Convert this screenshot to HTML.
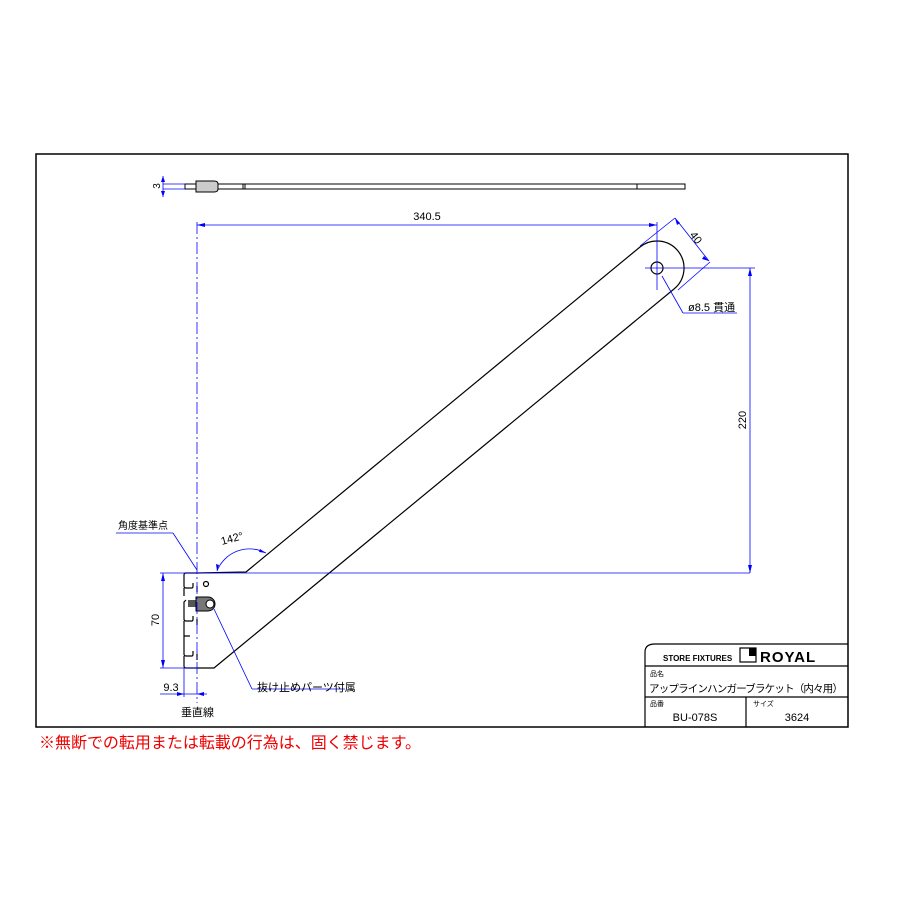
<!DOCTYPE html>
<html><head><meta charset="utf-8"><style>
body{margin:0;background:#fff;}
text{font-family:"Liberation Sans","Noto Sans CJK JP",sans-serif;}
</style></head><body>
<svg width="900" height="900" viewBox="0 0 900 900" xmlns="http://www.w3.org/2000/svg">
<rect x="36" y="154" width="812" height="573" fill="none" stroke="#000" stroke-width="1.5"/>
<!-- top view -->
<g stroke="#000" stroke-width="1" fill="none">
<rect x="185" y="184" width="500" height="5"/>
<path d="M196,181 L214,181 Q218,181 218,184 L218,189 Q218,192 214,192 L196,192 Z" fill="#ccc"/>
<line x1="243" y1="184" x2="243" y2="189"/><line x1="245" y1="184" x2="245" y2="189"/>
<line x1="637" y1="184" x2="637" y2="189"/>
</g>
<g stroke="#00f" stroke-width="0.8" fill="none">
<line x1="163" y1="184" x2="185" y2="184"/><line x1="163" y1="189" x2="185" y2="189"/>
<line x1="163" y1="176" x2="163" y2="197"/>
</g>
<text x="160" y="186" font-size="10" transform="rotate(-90 160 186)" text-anchor="middle">3</text>
<!-- bracket -->
<g stroke="#000" stroke-width="1.2" fill="none">
<path d="M197,573 L246,572 L640,247 A27,27 0 1 1 674,289 L214,668 L197,668"/>
<path d="M197,573 L186,573 Q184,573 184,575 L184,586 Q184,588 186,588 L192,588 Q193,588 193,586 L193,583 M197,586 L197,592"/>
<path d="M184,588 L184,596 M186,600 L184,602 L184,619 Q184,621 186,621 L192,621 Q193,621 193,619 L193,616 M197,619 L197,625"/>
<path d="M184,621 L184,636 L190,636 M184,636 L184,654 Q184,656 186,656 L192,656 Q193,656 193,654 L193,651 M197,654 L197,660"/>
<path d="M184,656 L184,666 Q184,668 186,668 L197,668"/>
<circle cx="657" cy="268" r="6"/>
<circle cx="206" cy="584" r="2.5"/>
</g>
<g>
<rect x="188" y="600" width="8" height="7" fill="#555"/>
<path d="M196,597 L208,597 A7,7 0 0 1 208,611 L196,611 Z" fill="#777" stroke="#000"/>
<circle cx="210" cy="604" r="4" fill="#fff" stroke="#000"/>
</g>
<!-- dims -->
<g stroke="#00f" stroke-width="0.8" fill="none">
<line x1="197" y1="222" x2="197" y2="703" stroke-dasharray="12,3,2,3"/>
<line x1="197" y1="225" x2="657" y2="225"/>
<line x1="657" y1="222" x2="657" y2="290"/>
<line x1="645" y1="268" x2="755" y2="268"/>
<line x1="750" y1="268" x2="750" y2="573"/>
<line x1="160" y1="573" x2="750" y2="573"/>
<line x1="160" y1="668" x2="197" y2="668"/>
<line x1="163" y1="573" x2="163" y2="668"/>
<line x1="184" y1="668" x2="184" y2="697"/>
<line x1="160" y1="694" x2="207" y2="694"/>
<line x1="640" y1="246" x2="675" y2="218"/><line x1="678" y1="290" x2="710" y2="262"/>
<line x1="675" y1="218" x2="709" y2="261"/>
<path d="M217,571 A35,35 0 0 1 266,553"/>
<line x1="173" y1="533" x2="197" y2="570"/><line x1="116" y1="533" x2="173" y2="533"/>
<line x1="214" y1="609" x2="252" y2="689"/><line x1="252" y1="689" x2="345" y2="689"/>
<line x1="662" y1="276" x2="683" y2="313"/><line x1="683" y1="313" x2="737" y2="313"/>
</g>
<g fill="#00f">
<path d="M197,225 l8,-2 v4z"/><path d="M657,225 l-8,-2 v4z"/>
<path d="M750,268 l-2,8 h4z"/><path d="M750,573 l-2,-8 h4z"/>
<path d="M163,573 l-2,8 h4z"/><path d="M163,668 l-2,-8 h4z"/>
<path d="M184,694 l-7,-2 v4z"/><path d="M197,694 l7,-2 v4z"/>
<path d="M163,176 l-2,6 h4z"/><path d="M163,197 l-2,-6 h4z"/>
<path d="M675,218 l2,7 l3,-2z"/><path d="M709,261 l-5,-5 l-2,3z"/>
<path d="M217,571 l-1,-7 l3,1z"/><path d="M266,553 l-6,-4 l-1,3z"/>
</g>
<g font-size="11" fill="#000">
<text x="427" y="220" text-anchor="middle">340.5</text>
<text x="746" y="420" transform="rotate(-90 746 420)" text-anchor="middle">220</text>
<text x="159" y="620" transform="rotate(-90 159 620)" text-anchor="middle">70</text>
<text x="171" y="691" text-anchor="middle">9.3</text>
<text x="693" y="240" transform="rotate(52 693 240)" text-anchor="middle">40</text>
<text x="233" y="542" transform="rotate(-15 233 542)" text-anchor="middle">142°</text>
<text x="688" y="311">ø8.5 貫通</text>
<text x="118" y="529" font-size="10">角度基準点</text>
<text x="257" y="691" font-size="11">抜け止めパーツ付属</text>
<text x="181" y="716" font-size="11">垂直線</text>
</g>
<!-- title block -->
<g stroke="#000" stroke-width="1.2" fill="none">
<path d="M645,727 L645,652 Q645,644 655,644 L848,644"/>
<line x1="645" y1="666" x2="848" y2="666"/>
<line x1="645" y1="697" x2="848" y2="697"/>
<line x1="746" y1="697" x2="746" y2="727"/>
<rect x="740" y="648" width="16" height="14"/>
</g>
<rect x="749" y="648" width="7" height="8" fill="#000"/>
<text x="663" y="661" font-size="8" font-weight="bold">STORE FIXTURES</text>
<text x="760" y="662" font-size="15" font-weight="bold" letter-spacing="1">ROYAL</text>
<text x="650" y="676" font-size="7">品名</text>
<text x="649" y="692" font-size="10.5" textLength="194">アップラインハンガーブラケット（内々用）</text>
<text x="650" y="706" font-size="7">品番</text>
<text x="753" y="706" font-size="7">サイズ</text>
<text x="695" y="721" font-size="11" text-anchor="middle">BU-078S</text>
<text x="797" y="721" font-size="11" text-anchor="middle">3624</text>
<text x="39" y="748" font-size="16" fill="#e00" textLength="382">※無断での転用または転載の行為は、固く禁じます。</text>
</svg>
</body></html>
